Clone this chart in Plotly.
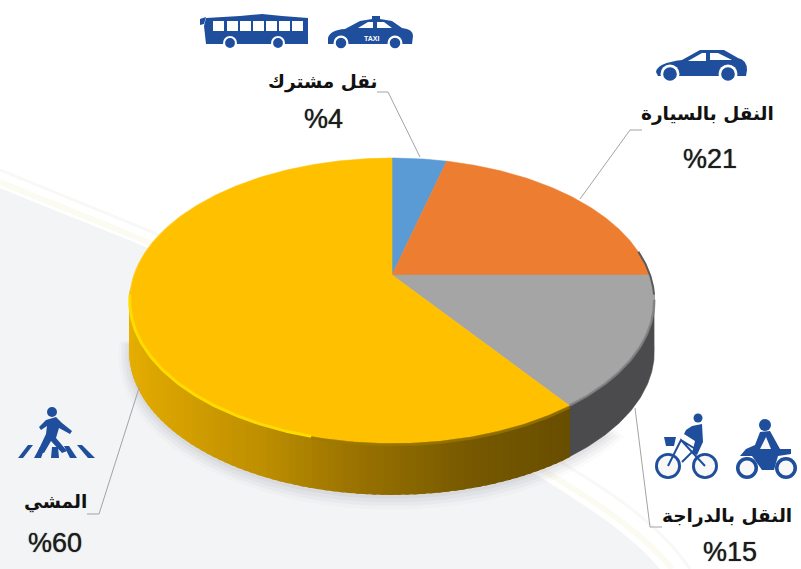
import math
import plotly.graph_objects as go

# ---- data ----
categories = ["نقل مشترك", "النقل بالسيارة", "النقل بالدراجة", "المشي"]
values = [4, 21, 15, 60]
value_labels = ["%4", "%21", "%15", "%60"]
colors = ["#5b9bd5", "#ed7d31", "#a5a5a5", "#ffc000"]
wall_dark = "#4b4b4d"

W, H = 801, 569
CX, CY, RX, RY, P, DEPTH = 392, 275, 258, 138, 0.18, 51
BLUE = "#1f4e9c"


def pt(deg, dy=0.0, grow=0.0):
    t = math.radians(deg)
    f = 1 / (1 + P * math.cos(t))
    return (CX + (RX + grow) * math.sin(t) * f, CY - (RY + grow) * math.cos(t) * f + dy)


def arc(a, b, dy=0.0, grow=0.0, n=None):
    n = n or max(2, int(abs(b - a) * 1.5))
    return [pt(a + (b - a) * i / n, dy, grow) for i in range(n + 1)]


def poly(points, color, opacity=1.0, line=0.6):
    xs = [p[0] for p in points] + [points[0][0]]
    ys = [p[1] for p in points] + [points[0][1]]
    return go.Scatter(x=xs, y=ys, mode="lines", fill="toself", fillcolor=color,
                      line=dict(color=color, width=line), opacity=opacity,
                      hoverinfo="skip", showlegend=False)


def curve(points, color, width, opacity=1.0):
    return go.Scatter(x=[p[0] for p in points], y=[p[1] for p in points], mode="lines",
                      line=dict(color=color, width=width), opacity=opacity,
                      hoverinfo="skip", showlegend=False)


def lerp_color(stops, deg):
    for (a, ca), (b, cb) in zip(stops, stops[1:]):
        if a <= deg <= b:
            k = (deg - a) / (b - a)
            rgb = [round(ca[i] + (cb[i] - ca[i]) * k) for i in range(3)]
            return "rgb(%d,%d,%d)" % tuple(rgb)
    return "rgb(%d,%d,%d)" % stops[-1][1]


# slice boundaries from the values
total = sum(values)
edges = [0.0]
for v in values:
    edges.append(edges[-1] + 360.0 * v / total)

traces = []

# soft shadow under the disc
for grow, op in ((11, 0.03), (8, 0.05), (5, 0.06), (2, 0.08)):
    shadow = arc(130, 265, DEPTH + 2, grow, 80)
    traces.append(poly(shadow + [pt(180, 0)], "#7f7f85", op, 0))

# wall of the disc
gray_start, gray_end = 98.0, edges[3]
traces.append(poly(arc(gray_start, gray_end) + arc(gray_end, gray_start, DEPTH), wall_dark))
wall_stops = [(edges[3], (104, 78, 0)), (165, (118, 88, 0)), (185, (150, 112, 0)),
              (205, (190, 143, 0)), (225, (212, 160, 0)), (245, (226, 171, 0)),
              (265, (232, 175, 0))]
a = edges[3]
while a < 264:
    b = min(a + 1.5, 264)
    traces.append(poly(arc(a, b + 0.5, n=3) + arc(b + 0.5, a, DEPTH, n=3),
                       lerp_color(wall_stops, (a + b) / 2), line=1.2))
    a = b

# top face
for i, c in enumerate(colors):
    traces.append(poly([(CX, CY)] + arc(edges[i], edges[i + 1]), c))

# bevel of the rim
traces.append(curve(arc(100, edges[3]), "#7d7d7f", 2.5, 0.8))
traces.append(curve(arc(edges[3], 195, 1.5), "#9c7a00", 3, 0.7))
traces.append(curve(arc(195, 262), "#ffdc00", 3))
traces.append(curve(arc(262, 300), "#ffd02a", 1.2, 0.5))
traces.append(curve(arc(80, 98), "#5a5a5a", 2))

# leader lines
leaders = [
    [(377, 92), (388, 92), (420, 157)],
    [(642, 130), (630, 130), (580, 199)],
    [(635, 408), (650, 527), (662, 527)],
    [(140, 385), (99, 514), (87, 514)],
]
for pts in leaders:
    traces.append(curve(pts, "#a3a3a3", 1))

fig = go.Figure(traces)

# ---- background ----
shapes = [
    dict(type="path", layer="below", line=dict(width=0), fillcolor="#f3f4f6",
         path="M0,188 C150,250 300,300 420,400 C520,470 610,510 660,569 L0,569 Z"),
    dict(type="path", layer="below", line=dict(color="#fcfbf2", width=6), fillcolor="rgba(0,0,0,0)",
         path="M0,182 C150,244 300,296 420,394 C525,465 620,505 672,569"),
    dict(type="path", layer="below", line=dict(color="#f8f8f6", width=3), fillcolor="rgba(0,0,0,0)",
         path="M0,170 C150,232 300,284 430,382 C540,455 640,495 690,569"),
]


def fill(path, color=BLUE):
    shapes.append(dict(type="path", path=path, fillcolor=color, line=dict(width=0), layer="above"))


def ring(x, y, r, outer=BLUE, inner="#ffffff", hole=0.6):
    shapes.append(dict(type="circle", x0=x - r, x1=x + r, y0=y - r, y1=y + r,
                       fillcolor=outer, line=dict(width=0), layer="above"))
    q = r * hole
    shapes.append(dict(type="circle", x0=x - q, x1=x + q, y0=y - q, y1=y + q,
                       fillcolor=inner, line=dict(width=0), layer="above"))


def stroke(path, width=2.2, color=BLUE):
    shapes.append(dict(type="path", path=path, fillcolor="rgba(0,0,0,0)",
                       line=dict(color=color, width=width), layer="above"))


# bus
fill("M206,18 L240,16 L262,14 L282,16 L308,18 L308,44 L206,44 L204,26 Z")
for wx in (213, 227, 240, 253, 266, 279, 292):
    fill(f"M{wx},21 L{wx + 11},21 L{wx + 11},31 L{wx},31 Z", "#ffffff")
fill("M204,24 L200,25 L200,19 L206,17 Z")
ring(230, 43, 7, "#ffffff", BLUE, 0.7)
ring(278, 43, 7, "#ffffff", BLUE, 0.7)

# taxi
fill("M328,38 Q330,30 345,29 L360,21 L372,19 L372,16 L380,16 L380,19 L392,21 L402,28 Q413,29 413,36 L412,44 L328,44 Z")
fill("M358,28 L368,22 L373,22 L373,28 Z", "#ffffff")
fill("M377,22 L384,22 L392,28 L377,28 Z", "#ffffff")
ring(341, 43, 7.5, "#ffffff", BLUE, 0.7)
ring(395, 43, 7.5, "#ffffff", BLUE, 0.7)

# car
fill("M656,72 Q657,63 682,60 L700,50 L724,50 L738,58 Q747,60 747,70 L746,76 L658,76 Z")
fill("M688,61 L702,53 L706,53 L706,61 Z", "#ffffff")
fill("M710,53 L718,53 L732,60 L710,60 Z", "#ffffff")
ring(670, 74, 9.5, "#ffffff", BLUE, 0.72)
ring(728, 74, 9.5, "#ffffff", BLUE, 0.72)

# bicycle
ring(668, 466, 13, BLUE, "#f8f8f8", 0.78)
ring(705, 466, 13, BLUE, "#f8f8f8", 0.78)
ring(698, 418, 4.5, BLUE, BLUE, 0.1)
fill("M692,426 L702,424 L703,442 L697,455 L692,453 L695,441 L684,434 L686,430 Z")
stroke("M668,466 L681,440 L692,452 L705,466 M681,440 L697,450 L692,452 L682,462", 2)
fill("M664,437 L676,437 L674,446 L666,446 Z")

# motorcycle
ring(747, 468, 11, BLUE, "#f8f8f8", 0.68)
ring(786, 468, 11, BLUE, "#f8f8f8", 0.68)
ring(765, 425, 6, BLUE, BLUE, 0.1)
fill("M760,432 L770,431 L780,449 L791,449 L791,454 L778,456 L774,470 L762,470 L752,456 L740,456 L746,449 L755,445 Z")
fill("M766,437 L771,449 L760,449 Z", "#f8f8f8")

# pedestrian
ring(52, 412, 5, BLUE, BLUE, 0.1)
fill("M46,420 L56,417 L62,423 L72,431 L70,434 L59,428 L56,438 L67,451 L62,453 L51,441 L44,453 L38,451 L46,434 L47,426 L41,430 L39,427 Z")
for stripe in ("M18,458 L28,445 L33,445 L23,458 Z", "M34,458 L40,447 L45,447 L41,458 Z",
               "M51,458 L52,447 L58,447 L59,458 Z", "M70,458 L64,446 L69,446 L77,458 Z",
               "M88,458 L77,445 L82,445 L95,458 Z"):
    fill(stripe)

# ---- labels ----
name_xy = [(323, 82), (707, 114), (727, 516), (55, 502)]
value_xy = [(323, 119), (710, 159), (730, 552), (55, 543)]
annotations = []
for name, val, (nx, ny), (vx, vy) in zip(categories, value_labels, name_xy, value_xy):
    annotations.append(dict(x=nx, y=ny, text=f"<b>{name}</b>", showarrow=False,
                            font=dict(family="DejaVu Sans", size=18.5, color="#111111"),
                            xanchor="center", yanchor="middle"))
    annotations.append(dict(x=vx, y=vy, text=val, showarrow=False,
                            font=dict(family="Liberation Sans", size=27, color="#1c1c1c",
                                      shadow="0 0 1px #333333"),
                            xanchor="center", yanchor="middle"))
annotations.append(dict(x=371, y=38, text="<b>TAXI</b>", showarrow=False,
                        font=dict(family="Liberation Sans", size=7, color="#ffffff")))

fig.update_layout(
    width=W, height=H, margin=dict(l=0, r=0, t=0, b=0),
    paper_bgcolor="#ffffff", plot_bgcolor="#ffffff", showlegend=False,
    xaxis=dict(range=[0, W], visible=False, fixedrange=True),
    yaxis=dict(range=[H, 0], visible=False, fixedrange=True),
    shapes=shapes, annotations=annotations,
)
fig.write_html("out.html", config={"displayModeBar": False},
               post_script="document.body.style.margin='0';document.body.style.overflow='hidden';")
